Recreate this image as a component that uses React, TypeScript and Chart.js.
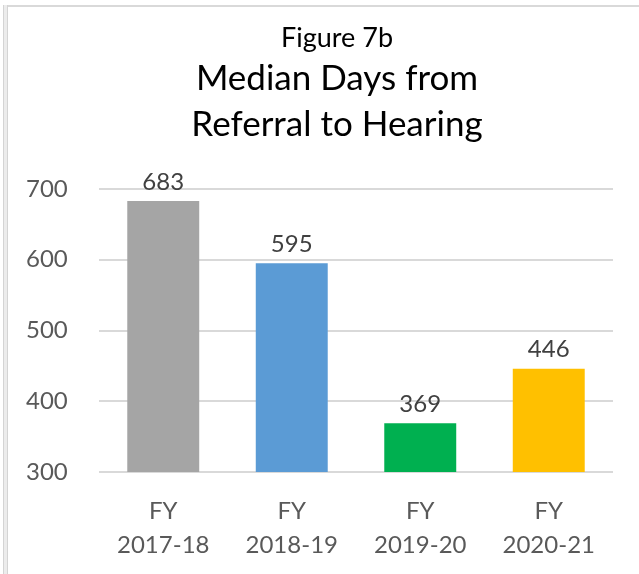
import React, { useEffect, useRef } from "react";
import { Chart, registerables } from "chart.js";

Chart.register(...registerables);

const categories: string[][] = [
  ["FY", "2017-18"],
  ["FY", "2018-19"],
  ["FY", "2019-20"],
  ["FY", "2020-21"],
];
const values: number[] = [683, 595, 369, 446];
const barColors: string[] = ["#a5a5a5", "#5b9bd5", "#00b050", "#ffc000"];
const titleText = "Figure 7b";
const subtitleLines: string[] = ["Median Days from", "Referral to Hearing"];
const yMin = 300;
const yMax = 700;
const yStep = 100;

const FONT = "Lato, 'Open Sans', sans-serif";

const framePlugin = {
  id: "frame",
  beforeDraw(chart: any) {
    const ctx = chart.ctx;
    ctx.save();
    ctx.fillStyle = "#ffffff";
    ctx.fillRect(0, 0, chart.width, chart.height);
    ctx.fillStyle = "#d4d4d4";
    ctx.fillRect(3, 5, 5, chart.height - 5);
    ctx.fillStyle = "#ececec";
    ctx.fillRect(4, 5, 3, chart.height - 5);
    ctx.fillStyle = "#d9d9d9";
    ctx.fillRect(8, 5, chart.width - 8, 2);
    ctx.restore();
  },
};

const labelPlugin = {
  id: "valueLabels",
  afterDatasetsDraw(chart: any) {
    const ctx = chart.ctx;
    const meta = chart.getDatasetMeta(0);
    const data = chart.data.datasets[0].data as number[];
    ctx.save();
    ctx.font = `24px ${FONT}`;
    ctx.fillStyle = "#404040";
    ctx.textAlign = "center";
    ctx.textBaseline = "middle";
    meta.data.forEach((el: any, i: number) => {
      ctx.fillText(String(data[i]), el.x, el.y - 19);
    });
    ctx.restore();
  },
};

export default function App() {
  const ref = useRef<HTMLCanvasElement | null>(null);

  useEffect(() => {
    if (!ref.current) return;
    const chart = new Chart(ref.current, {
      type: "bar",
      data: {
        labels: categories,
        datasets: [
          {
            data: values,
            backgroundColor: barColors,
            borderWidth: 0,
            categoryPercentage: 1,
            barPercentage: 0.56,
          },
        ],
      },
      options: {
        responsive: false,
        animation: false,
        devicePixelRatio: 1,
        layout: { padding: { left: 61, right: 26, top: 0, bottom: 12 } },
        plugins: {
          legend: { display: false },
          tooltip: { enabled: false },
          title: {
            display: true,
            text: titleText,
            color: "#000000",
            font: { family: FONT, size: 27, weight: "normal", lineHeight: "30px" },
            padding: { top: 23, bottom: 0 },
          },
          subtitle: {
            display: true,
            text: subtitleLines,
            color: "#000000",
            font: { family: FONT, size: 35, weight: "normal", lineHeight: "46px" },
            padding: { top: 3, bottom: 41 },
          },
        },
        scales: {
          x: {
            afterFit: (scale: any) => {
              scale.height = 90;
            },
            grid: { display: false, drawTicks: false },
            border: { display: false },
            ticks: {
              color: "#595959",
              font: { family: FONT, size: 24, lineHeight: "34px" },
              padding: 22,
              maxRotation: 0,
              autoSkip: false,
            },
          },
          y: {
            min: yMin,
            max: yMax,
            afterFit: (scale: any) => {
              scale.width = 38;
            },
            grid: { color: "#d9d9d9", lineWidth: 2, drawTicks: false },
            border: { display: false },
            ticks: {
              stepSize: yStep,
              mirror: true,
              crossAlign: "near",
              color: "#595959",
              font: { family: FONT, size: 24 },
              padding: -73,
            },
          },
        },
      },
      plugins: [framePlugin, labelPlugin],
    });
    return () => chart.destroy();
  }, []);

  return (
    <div style={{ position: "absolute", left: 0, top: 0, width: 639, height: 574, background: "#fff" }}>
      <canvas ref={ref} width={639} height={574} style={{ display: "block", width: 639, height: 574 }} />
    </div>
  );
}
